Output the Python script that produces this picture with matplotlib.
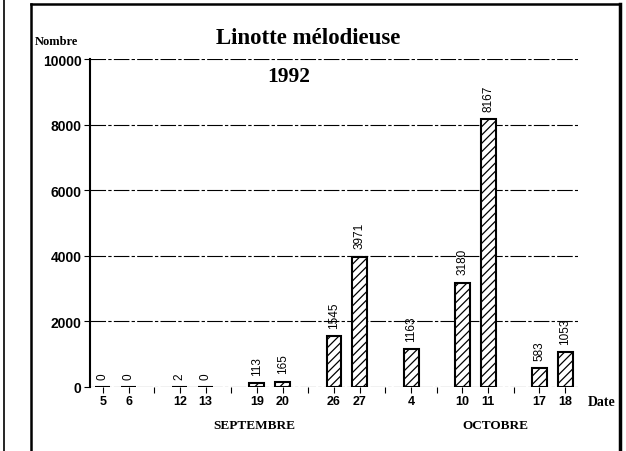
import numpy as np
import matplotlib
matplotlib.use("Agg")
import matplotlib.pyplot as plt
from matplotlib.lines import Line2D

# Weekend counting dates (blank strings are empty slots on the axis)
dates = ["5", "6", "", "12", "13", "", "19", "20", "", "26", "27", "",
         "4", "", "10", "11", "", "17", "18"]
counts = [0, 0, None, 2, 0, None, 113, 165, None, 1545, 3971, None,
          1163, None, 3180, 8167, None, 583, 1053]
yticks = [0, 2000, 4000, 6000, 8000, 10000]
months = ["SEPTEMBRE", "OCTOBRE"]

SERIF = "Liberation Serif"
SANS = "Liberation Sans"

plt.rcParams["hatch.linewidth"] = 0.9

fig = plt.figure(figsize=(6.26, 4.52), dpi=100)
ax = fig.add_axes([90 / 626, 1 - 388 / 452, 488 / 626, 328 / 452])

x = np.arange(len(dates))
bx = [xi for xi, c in zip(x, counts) if c is not None]
by = [c for c in counts if c is not None]

for yv in yticks:
    ax.axhline(yv, color="black", lw=0.8, ls=(0, (14, 2, 3, 2)), zorder=1)

bars = ax.bar(bx, by, width=0.58, color="white", edgecolor="black",
              linewidth=1.5, hatch="////", zorder=3)
for xi, v in zip(bx, by):
    ax.annotate(str(v), (xi, v), xytext=(0, 6), textcoords="offset points",
                rotation=90, ha="center", va="bottom", fontsize=8.5,
                family=SANS, zorder=4)

ax.set_xlim(-0.5, 18.5)
ax.set_ylim(0, 10000)
ax.set_yticks(yticks)
ax.set_yticklabels([str(t) for t in yticks], family=SANS, fontsize=10,
                   fontweight="bold")
ax.set_xticks(x)
ax.set_xticklabels(dates, family=SANS, fontsize=9, fontweight="bold")
ax.tick_params(axis="y", length=4, width=0.8, pad=2)
ax.tick_params(axis="x", length=4, width=0.8, pad=2, direction="out")

for s in ["top", "right", "bottom"]:
    ax.spines[s].set_visible(False)
ax.spines["left"].set_linewidth(1.5)

# titles and annotations
fig.text(308 / 626, 1 - 38 / 452, "Linotte mélodieuse", family=SERIF,
         fontweight="bold", fontsize=16.5, ha="center", va="center")
fig.text(289 / 626, 1 - 77 / 452, "1992", family=SERIF,
         fontweight="bold", fontsize=15.5, ha="center", va="center")
fig.text(35 / 626, 1 - 42 / 452, "Nombre", family=SERIF,
         fontweight="bold", fontsize=9, ha="left", va="center")
fig.text(588 / 626, 1 - 402 / 452, "Date", family=SERIF,
         fontweight="bold", fontsize=10, ha="left", va="center")
fig.text(254 / 626, 1 - 426 / 452, months[0], family=SERIF,
         fontweight="bold", fontsize=9.5, ha="center", va="center")
fig.text(495 / 626, 1 - 426 / 452, months[1], family=SERIF,
         fontweight="bold", fontsize=9.5, ha="center", va="center")

# scanned page frame
def px_line(xs, ys, lw):
    fig.add_artist(Line2D([v / 626 for v in xs], [1 - v / 452 for v in ys],
                          color="black", lw=lw, transform=fig.transFigure))

px_line([31, 31], [5, 452], 1.8)
px_line([31, 620], [5, 5], 1.8)
px_line([620, 620], [5, 452], 2.5)
px_line([4, 4], [0, 452], 1.2)

fig.savefig("out.png", dpi=100)
